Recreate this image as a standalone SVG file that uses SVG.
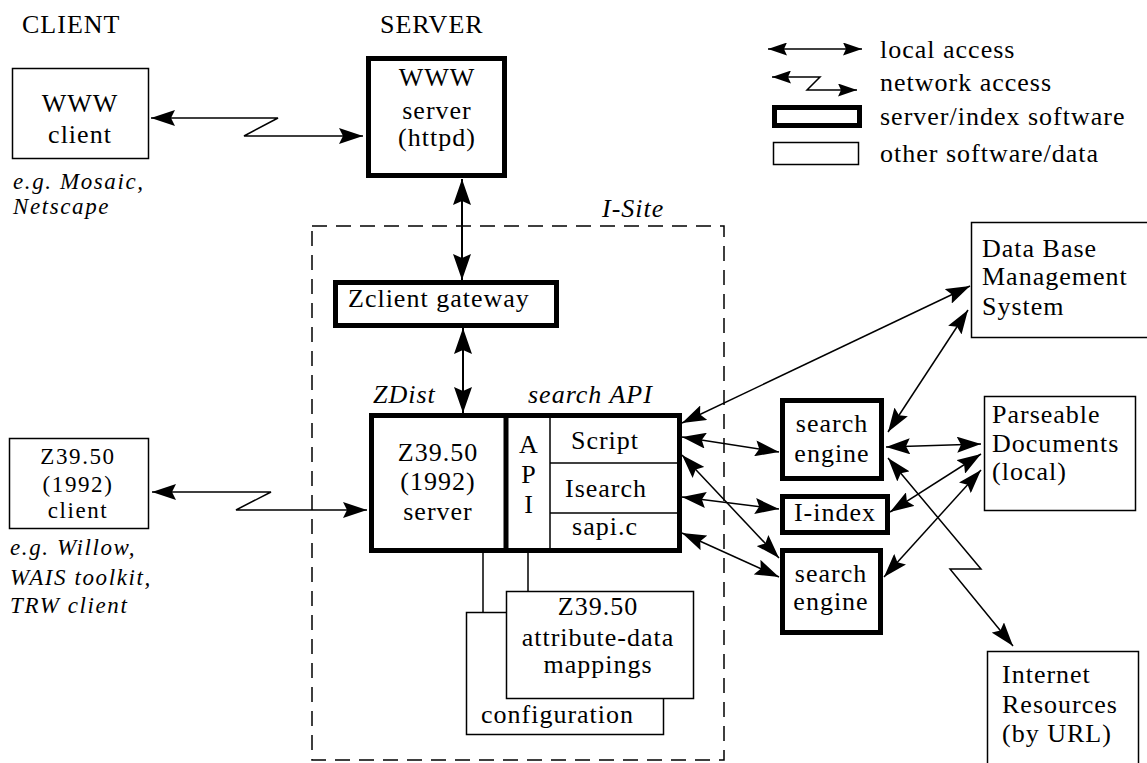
<svg xmlns="http://www.w3.org/2000/svg" width="1147" height="763" viewBox="0 0 1147 763">
<style>
.thin{fill:#fff;stroke:#000;stroke-width:1.5}
.thick{fill:#fff;stroke:#000;stroke-width:5}
.t{font-family:"Liberation Serif","Times New Roman",serif;font-size:26px;letter-spacing:1px;fill:#000}
.sm{font-size:23px;letter-spacing:1.6px}
.i{font-style:italic}
.c{text-anchor:middle}
.conn{fill:none;stroke:#000;stroke-width:1.5}
.connb{fill:none;stroke:#000;stroke-width:2}
.dash{fill:none;stroke:#000;stroke-width:1.5;stroke-dasharray:15 9}
</style>
<defs>
<marker id="a" viewBox="0 0 24 16" refX="24" refY="8" markerWidth="24" markerHeight="16" markerUnits="userSpaceOnUse" orient="auto-start-reverse"><path d="M0,0 L24,8 L0,16 L4,8 z"/></marker>
<marker id="b" viewBox="0 0 26 18" refX="26" refY="9" markerWidth="26" markerHeight="18" markerUnits="userSpaceOnUse" orient="auto-start-reverse"><path d="M0,0 L26,9 L0,18 L4,9 z"/></marker>
<marker id="s" viewBox="0 0 19 13" refX="19" refY="6.5" markerWidth="19" markerHeight="13" markerUnits="userSpaceOnUse" orient="auto-start-reverse"><path d="M0,0 L19,6.5 L0,13 L3,6.5 z"/></marker>
</defs>

<g id="headings">
<text class="t" x="22" y="33">CLIENT</text>
<text class="t" x="380" y="33">SERVER</text>
</g>

<g id="i-site">
<rect class="dash" x="312" y="226" width="412" height="534"/>
<text class="t i" x="602" y="217">I-Site</text>
</g>

<g id="legend">
<path class="conn" d="M768,49 L862,49" marker-start="url(#s)" marker-end="url(#s)"/>
<path class="conn" d="M772,77 L820,77 L807,90 L857,90" marker-start="url(#s)" marker-end="url(#s)"/>
<rect class="thick" x="774.5" y="107.5" width="85" height="18"/>
<rect class="thin" x="773.5" y="142.5" width="85" height="22"/>
<text class="t" x="880" y="58">local access</text>
<text class="t" x="880" y="91">network access</text>
<text class="t" x="880" y="125">server/index software</text>
<text class="t" x="880" y="162">other software/data</text>
</g>

<g id="connectors">
<path class="conn" d="M151,118 L278,118 L244,136 L363,136" marker-start="url(#a)" marker-end="url(#a)"/>
<path class="conn" d="M152,492 L271,492 L236,510 L367,510" marker-start="url(#a)" marker-end="url(#a)"/>
<path class="connb" d="M462,179 L462,280" marker-start="url(#b)" marker-end="url(#b)"/>
<path class="connb" d="M463,328 L463,413" marker-start="url(#b)" marker-end="url(#b)"/>
<path class="conn" d="M483,553 L483,612"/>
<path class="conn" d="M528,553 L528,591"/>
<path class="conn" d="M682,423 L970,286" marker-start="url(#a)" marker-end="url(#a)"/>
<path class="conn" d="M888,432 L968,310" marker-start="url(#a)" marker-end="url(#a)"/>
<path class="conn" d="M682,437 L779,452" marker-start="url(#a)" marker-end="url(#a)"/>
<path class="conn" d="M682,455 L779,558" marker-start="url(#a)" marker-end="url(#a)"/>
<path class="conn" d="M682,497 L779,509" marker-start="url(#a)" marker-end="url(#a)"/>
<path class="conn" d="M682,533 L779,577" marker-start="url(#a)" marker-end="url(#a)"/>
<path class="conn" d="M886,447 L981,444" marker-start="url(#a)" marker-end="url(#a)"/>
<path class="conn" d="M890,512 L981,454" marker-start="url(#a)" marker-end="url(#a)"/>
<path class="conn" d="M884,577 L981,470" marker-start="url(#a)" marker-end="url(#a)"/>
<path class="conn" d="M888,458 L981,569 L950,569 L1013,646" marker-start="url(#a)" marker-end="url(#a)"/>
</g>

<g id="www-client">
<rect class="thin" x="12.5" y="68.5" width="136" height="90"/>
<text class="t c" x="80" y="112">WWW</text>
<text class="t c" x="80" y="143">client</text>
<text class="t sm i" x="13" y="189">e.g. Mosaic,</text>
<text class="t sm i" x="13" y="214">Netscape</text>
</g>

<g id="www-server">
<rect class="thick" x="368.5" y="58.5" width="136" height="117"/>
<text class="t c" x="437" y="86">WWW</text>
<text class="t c" x="437" y="119">server</text>
<text class="t c" x="437" y="146">(httpd)</text>
</g>

<g id="zclient-gateway">
<rect class="thick" x="335.5" y="282.5" width="221" height="43"/>
<text class="t" x="348" y="307">Zclient gateway</text>
</g>

<g id="zdist-server">
<text class="t i" x="373" y="403">ZDist</text>
<text class="t i" x="528" y="403">search API</text>
<rect class="thick" x="371.5" y="415.5" width="308" height="135"/>
<line x1="506" y1="415" x2="506" y2="551" stroke="#000" stroke-width="5"/>
<line x1="550" y1="415" x2="550" y2="551" stroke="#000" stroke-width="1.5"/>
<line x1="550" y1="463" x2="678" y2="463" stroke="#000" stroke-width="1.5"/>
<line x1="550" y1="513" x2="678" y2="513" stroke="#000" stroke-width="1.5"/>
<text class="t c" x="438" y="461">Z39.50</text>
<text class="t c" x="438" y="490">(1992)</text>
<text class="t c" x="438" y="520">server</text>
<text class="t c" x="529" y="453">A</text>
<text class="t c" x="529" y="483">P</text>
<text class="t c" x="529" y="513">I</text>
<text class="t c" x="605" y="449">Script</text>
<text class="t c" x="606" y="497">Isearch</text>
<text class="t c" x="605" y="535">sapi.c</text>
</g>

<g id="z3950-client">
<rect class="thin" x="9.5" y="438.5" width="139" height="90"/>
<text class="t sm c" x="78" y="464">Z39.50</text>
<text class="t sm c" x="78" y="492">(1992)</text>
<text class="t sm c" x="78" y="518">client</text>
<text class="t sm i" x="10" y="555">e.g. Willow,</text>
<text class="t sm i" x="10" y="585">WAIS toolkit,</text>
<text class="t sm i" x="10" y="613">TRW client</text>
</g>

<g id="configuration">
<rect class="thin" x="466.5" y="612.5" width="197" height="122"/>
<text class="t" x="481" y="723">configuration</text>
</g>

<g id="mappings">
<rect class="thin" x="506.5" y="591.5" width="187" height="107"/>
<text class="t c" x="598" y="615">Z39.50</text>
<text class="t c" x="598" y="646">attribute-data</text>
<text class="t c" x="598" y="673">mappings</text>
</g>

<g id="search-engine-1">
<rect class="thick" x="782.5" y="400.5" width="99" height="78"/>
<text class="t c" x="832" y="432">search</text>
<text class="t c" x="832" y="462">engine</text>
</g>

<g id="i-index">
<rect class="thick" x="782.5" y="496.5" width="105" height="36"/>
<text class="t c" x="835" y="521">I-index</text>
</g>

<g id="search-engine-2">
<rect class="thick" x="782.5" y="550.5" width="98" height="82"/>
<text class="t c" x="831" y="582">search</text>
<text class="t c" x="831" y="610">engine</text>
</g>

<g id="dbms">
<rect class="thin" x="971.5" y="222.5" width="200" height="115"/>
<text class="t" x="982" y="257">Data Base</text>
<text class="t" x="982" y="285">Management</text>
<text class="t" x="982" y="315">System</text>
</g>

<g id="parseable-documents">
<rect class="thin" x="984.5" y="396.5" width="151" height="114"/>
<text class="t" x="992" y="423">Parseable</text>
<text class="t" x="992" y="452">Documents</text>
<text class="t" x="992" y="480">(local)</text>
</g>

<g id="internet-resources">
<rect class="thin" x="987.5" y="651.5" width="151" height="130"/>
<text class="t" x="1002" y="683">Internet</text>
<text class="t" x="1002" y="713">Resources</text>
<text class="t" x="1002" y="742">(by URL)</text>
</g>
</svg>
